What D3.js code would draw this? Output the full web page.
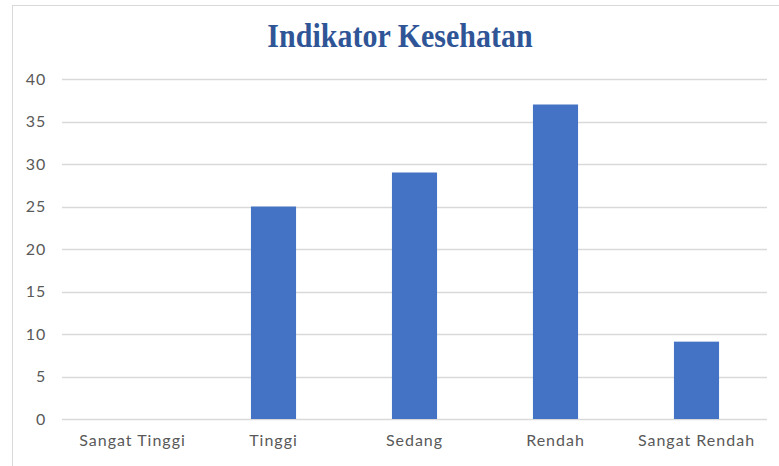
<!DOCTYPE html>
<html>
<head>
<meta charset="utf-8">
<script src="https://cdn.jsdelivr.net/npm/d3@7"></script>
<style>
  body { margin: 0; background: #fff; }
  svg { display: block; }
</style>
</head>
<body>
<svg id="chart" width="779" height="466"></svg>
<script>

var categories = ['Sangat Tinggi', 'Tinggi', 'Sedang', 'Rendah', 'Sangat Rendah'];
var values = [0, 25, 29, 37, 9.1];
var y_ticks = [0, 5, 10, 15, 20, 25, 30, 35, 40];
var title = 'Indikator Kesehatan';

var svg = d3.select('#chart');

var margin = {top: 79, right: 12, bottom: 47, left: 62};
var width = 767 - margin.left;
var height = 419 - margin.top;

// chart area frame
svg.append('rect')
    .attr('x', 12.5)
    .attr('y', 5.5)
    .attr('width', 800)
    .attr('height', 500)
    .attr('fill', 'none')
    .attr('stroke', '#d9d9d9');

// title is a bit condensed in the original, so stretch it vertically
svg.append('text')
    .attr('transform', 'translate(400,47) scale(1,1.12)')
    .attr('text-anchor', 'middle')
    .attr('font-family', '"Liberation Serif", serif')
    .attr('font-weight', 'bold')
    .attr('font-size', '30px')
    .attr('fill', '#2f5597')
    .text(title);

var g = svg.append('g')
    .attr('transform', 'translate(' + margin.left + ',' + margin.top + ')');

var x = d3.scaleBand().domain(categories).range([0, width]).paddingInner(0.68).paddingOuter(0.34);
var y = d3.scaleLinear().domain([0, 40]).range([height, 0]);

// gridlines
g.append('g')
    .selectAll('line')
    .data(y_ticks)
    .enter().append('line')
    .attr('x1', 0)
    .attr('x2', width)
    .attr('y1', function(d) { return Math.round(y(d)) + 0.5; })
    .attr('y2', function(d) { return Math.round(y(d)) + 0.5; })
    .attr('stroke', '#d9d9d9')
    .attr('stroke-width', 1.3);

g.selectAll('.bar')
    .data(values)
    .enter().append('rect')
    .attr('class', 'bar')
    .attr('x', function(d, i) { return x(categories[i]); })
    .attr('width', x.bandwidth())
    .attr('y', function(d) { return y(d); })
    .attr('height', function(d) { return height - y(d); })
    .attr('fill', '#4472c4');

var y_axis = g.append('g')
    .call(d3.axisLeft(y).tickValues(y_ticks).tickSize(0).tickPadding(16));
y_axis.select('.domain').remove();
y_axis.selectAll('text')
    .attr('font-family', 'Lato, sans-serif')
    .attr('font-size', '16px')
    .attr('letter-spacing', '0.8px')
    .attr('fill', '#595959');

var x_axis = g.append('g')
    .attr('transform', 'translate(0,' + height + ')')
    .call(d3.axisBottom(x).tickSize(0).tickPadding(16));
x_axis.select('.domain').remove();
x_axis.selectAll('text')
    .attr('font-family', 'Lato, sans-serif')
    .attr('font-size', '16px')
    .attr('letter-spacing', '1px')
    .attr('fill', '#595959');

</script>
</body>
</html>
